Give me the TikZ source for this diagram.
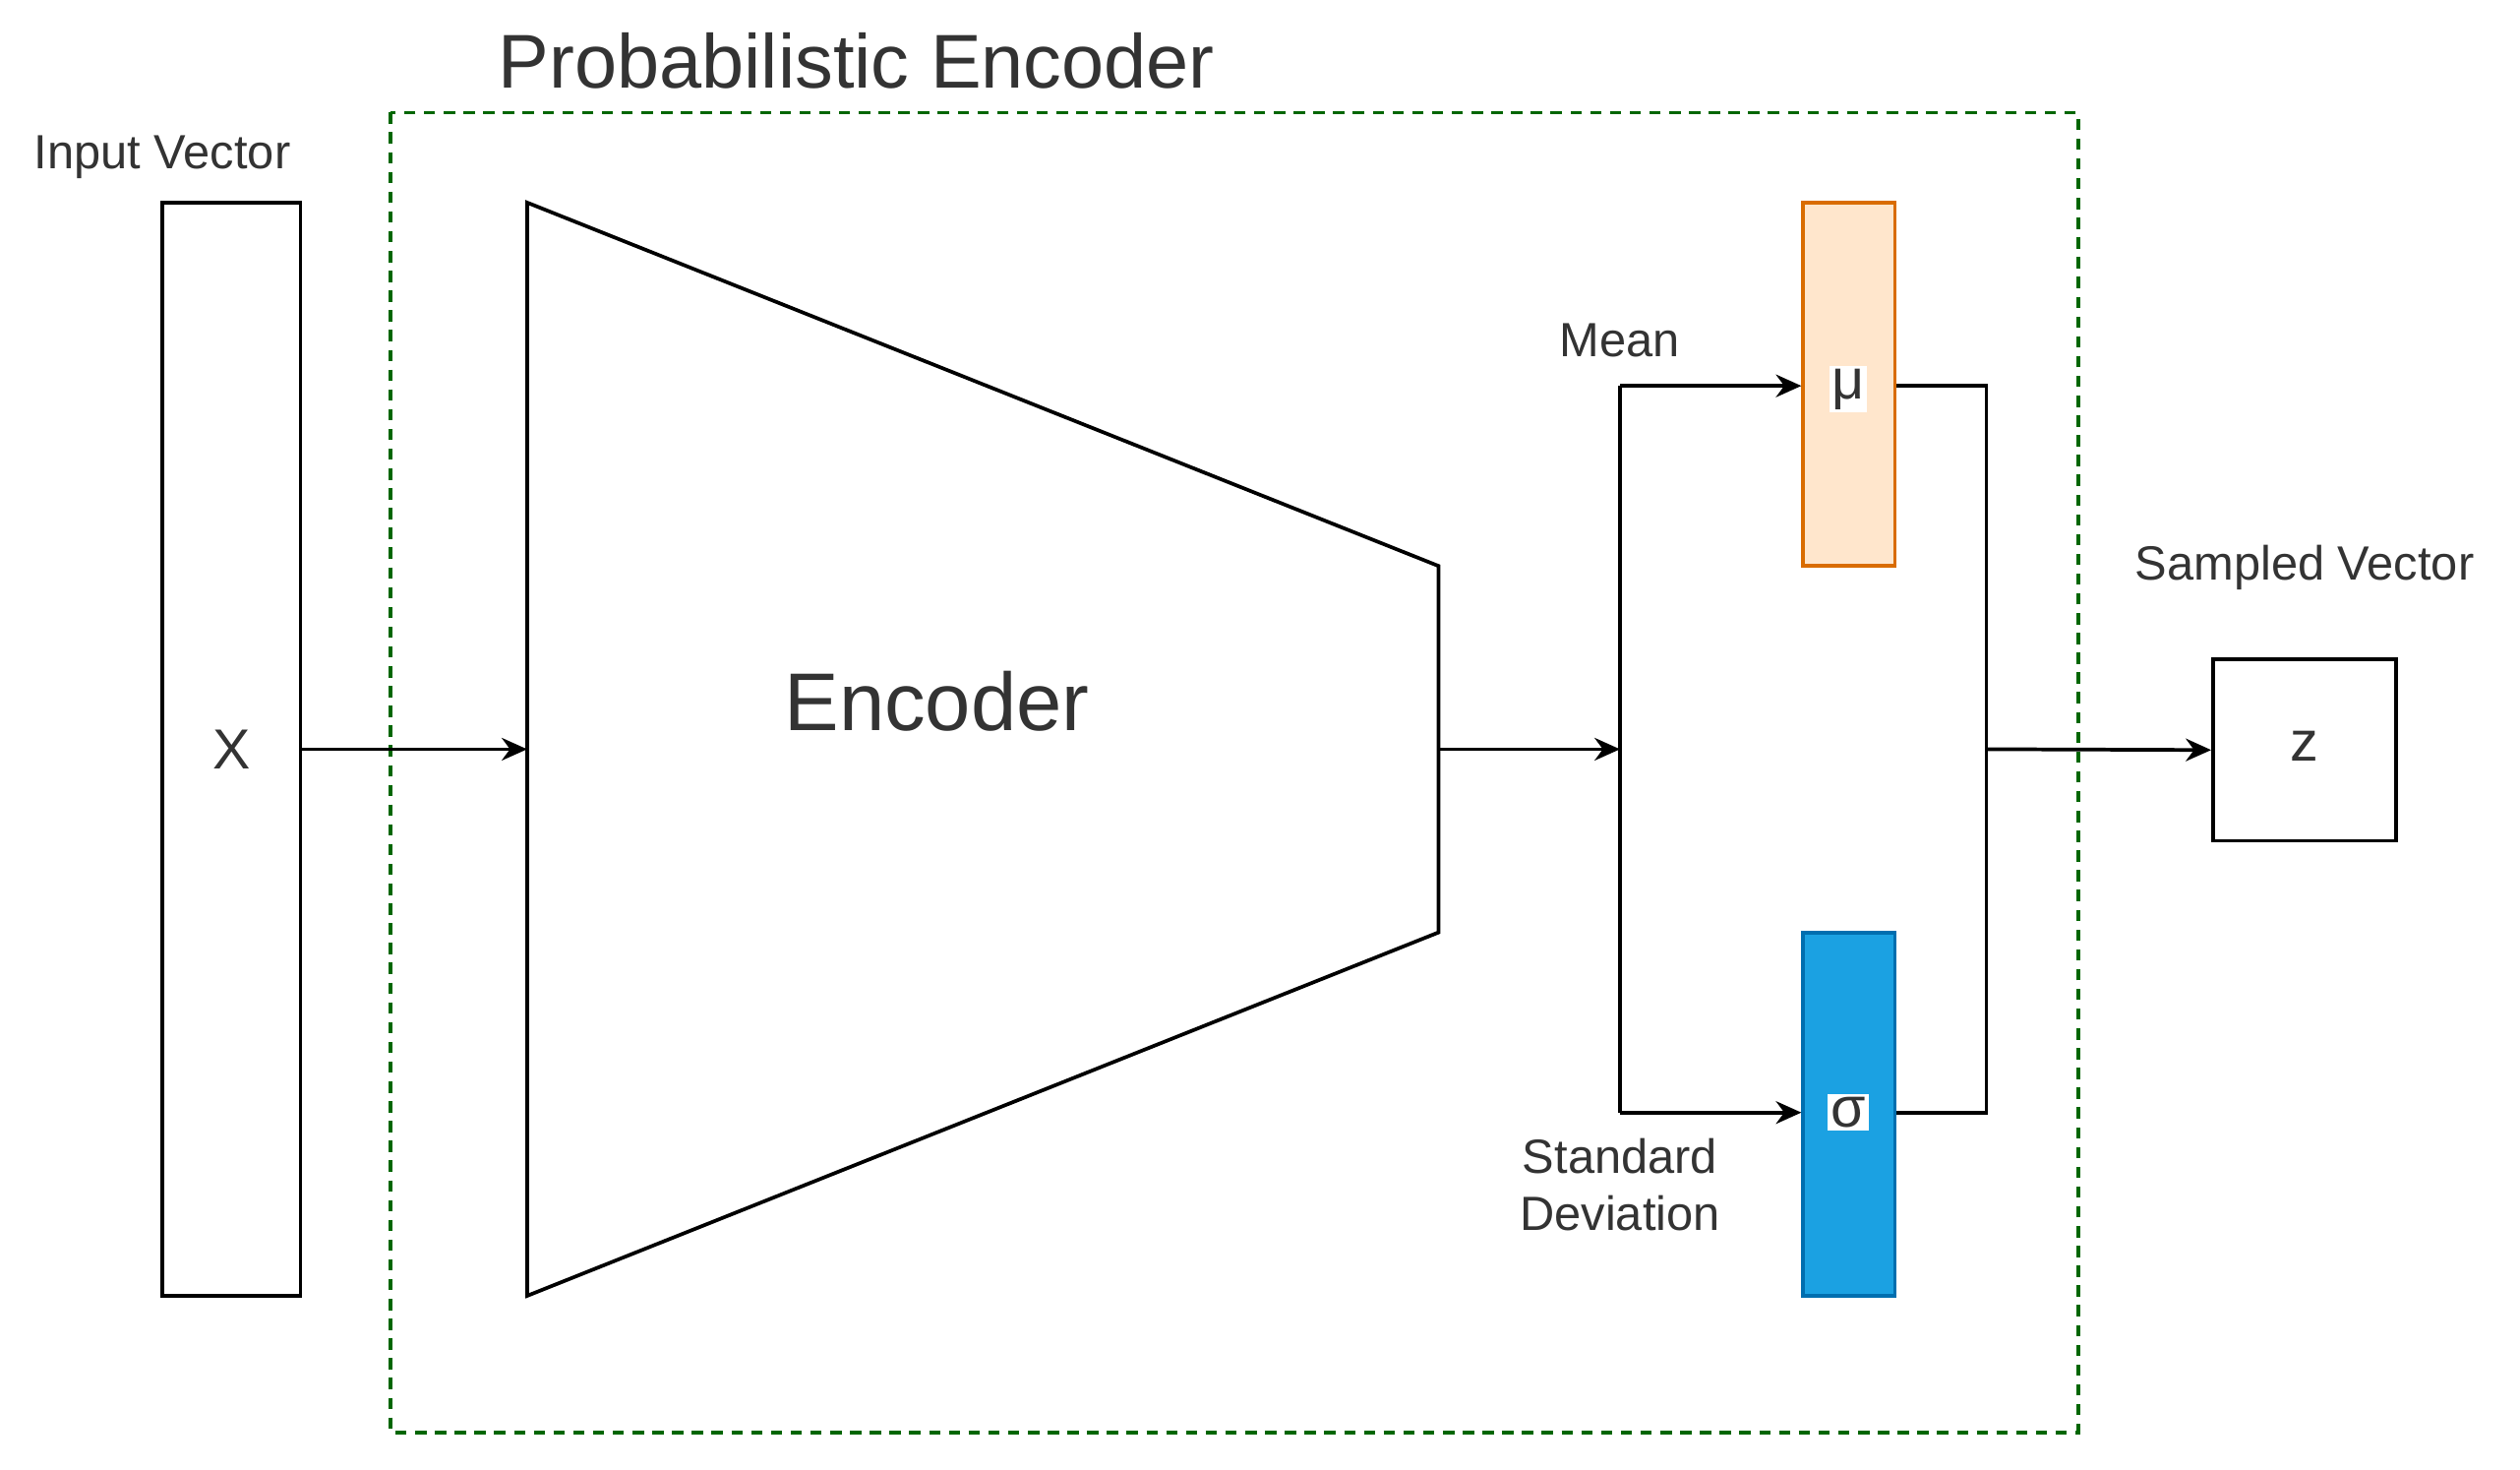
\documentclass[tikz,border=0pt]{standalone}
\usepackage{fontspec}
\setmainfont{Liberation Sans}
\usetikzlibrary{arrows.meta}
\begin{document}
\begin{tikzpicture}[x=0.02cm,y=-0.02cm,
  box/.style={draw,line width=1.3pt,inner sep=0},
  arr/.style={line width=1.3pt,-{Stealth[length=9pt,width=8pt]}},
  ln/.style={line width=1.3pt},
  lbl/.style={font=\fontsize{17}{20}\selectfont,text=black!80,align=center}]
\useasboundingbox (0,0) rectangle (1568,914);
\draw[green!40!black,dashed,line width=1.3pt,dash pattern=on 4pt off 3pt] (243,70) rectangle (1293,891);
\node[font=\fontsize{27}{30}\selectfont,text=black!80] (title) at (533,38) {Probabilistic Encoder};
\node[box,minimum width=86*0.02cm,minimum height=680*0.02cm] (x) at (144,466) {};
\node[lbl,font=\fontsize{20}{24}\selectfont] (xl) at (144,466) {X};
\node[lbl] (inl) at (101,98) {Input Vector};
\draw[ln] (328,126) -- (895,352) -- (895,580) -- (328,806) -- cycle;
\coordinate (encin) at (328,466);
\coordinate (encout) at (895,466);
\node[font=\fontsize{29}{32}\selectfont,text=black!80] (enc) at (583,436) {Encoder};
\draw[arr] (x.east) -- (encin);
\coordinate (split) at (1008,466);
\coordinate (st) at (1008,240);
\coordinate (sb) at (1008,692);
\draw[arr] (encout) -- (split);
\draw[ln] (st) -- (sb);
\node[box,draw=orange!85!black,fill={rgb,255:red,255;green,230;blue,204},minimum width=57*0.02cm,minimum height=226*0.02cm] (mu) at (1150.5,239) {};
\node[box,draw={rgb,255:red,0;green,110;blue,175},fill={rgb,255:red,27;green,161;blue,226},minimum width=57*0.02cm,minimum height=226*0.02cm] (sig) at (1150.5,693) {};
\node[fill=white,inner sep=1pt,font=\fontsize{20}{24}\selectfont,text=black!80] (mut) at (1150,242) {μ};
\node[fill=white,inner sep=1pt,font=\fontsize{20}{24}\selectfont,text=black!80] (sigt) at (1150,692) {σ};
\draw[arr] (st) -- (mu.west|-st);
\draw[arr] (sb) -- (sig.west|-sb);
\coordinate (jt) at (1236,240);
\coordinate (jb) at (1236,692);
\coordinate (jm) at (1236,466);
\draw[ln] (mu.east|-jt) -- (jt) -- (jb) -- (sig.east|-jb);
\node[box,minimum width=114*0.02cm,minimum height=113*0.02cm] (z) at (1434,466.5) {};
\node[lbl,font=\fontsize{20}{24}\selectfont] (zt) at (1434,464) {z};
\draw[arr] (jm) -- (z.west);
\node[lbl] (mean) at (1008,212) {Mean};
\node[lbl] (sd) at (1008,737) {Standard\\Deviation};
\node[lbl] (sv) at (1434,353) {Sampled Vector};
\end{tikzpicture}
\end{document}
